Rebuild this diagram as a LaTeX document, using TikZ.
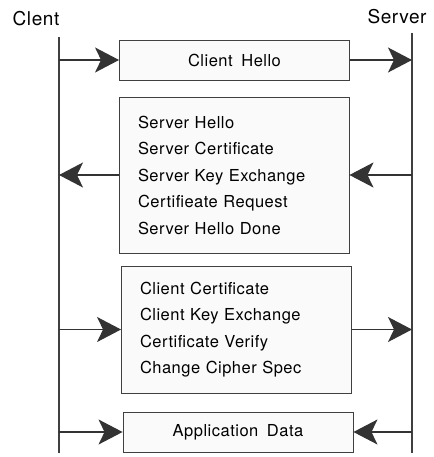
\documentclass[tikz,border=0pt]{standalone}
\usepackage{fontspec}
\setmainfont[LetterSpace=3, WordSpace=1.7]{TeX Gyre Heros}
\usetikzlibrary{arrows.meta}

\newcommand{\clientx}{59}
\newcommand{\serverx}{412}

\tikzset{
	lifeline/.style={black!75, line width=1.1pt},
	partyname/.style={font=\fontsize{19}{20}\selectfont, inner sep=0pt},
	msgbox/.style={rectangle, draw=black!75, line width=0.9pt, fill=black!2,
		inner sep=0pt, minimum width=230pt,
		font=\fontsize{16.5}{26.5}\selectfont},
	msgarrow/.style={-{Stealth[length=24pt, width=25pt, inset=6pt]},
		black!80, line width=1.1pt}
}

\begin{document}
\begin{tikzpicture}[x=1pt, y=-1pt]

\useasboundingbox (0,0) rectangle (433,457);

% Lifelines
\coordinate (Client-top) at (\clientx,37);
\coordinate (Client-bot) at (\clientx,453);
\coordinate (Server-top) at (\serverx,33);
\coordinate (Server-bot) at (\serverx,453);
\draw[lifeline] (Client-top) -- (Client-bot);
\draw[lifeline] (Server-top) -- (Server-bot);

% Party names
\node[partyname] (Client-name) at (36,19) {Clent};
\node[partyname] (Server-name) at (397,17) {Server};

% Message boxes
\node[msgbox, minimum height=40pt] (Msg-1) at (234.5,60) {Client Hello};
\node[msgbox,
	minimum height=156pt,
	text width=192pt,
	inner xsep=19pt,
	align=left
] (Msg-2) at (234,175) {Server Hello\\Server Certificate\\Server Key Exchange\\Certifieate Request\\Server Hello Done};
\node[msgbox,
	minimum height=127pt,
	text width=193pt,
	inner xsep=18pt,
	align=left
] (Msg-3) at (236.5,329.5) {Client Certificate\\Client Key Exchange\\Certificate Verify\\Change Cipher Spec};
\node[msgbox, minimum height=40pt] (Msg-4) at (238,432) {Application Data};

% Client to server
\foreach \m in {1,3}
{
	\draw[msgarrow] (Msg-\m.west -| Client-top) -- (Msg-\m.west);
	\draw[msgarrow] (Msg-\m.east) -- (Msg-\m.east -| Server-top);
}

% Server to client
\draw[msgarrow] (Msg-2.east -| Server-top) -- (Msg-2.east);
\draw[msgarrow] (Msg-2.west) -- (Msg-2.west -| Client-top);

% Both sides
\draw[msgarrow] (Msg-4.west -| Client-top) -- (Msg-4.west);
\draw[msgarrow] (Msg-4.east -| Server-top) -- (Msg-4.east);

\end{tikzpicture}
\end{document}
